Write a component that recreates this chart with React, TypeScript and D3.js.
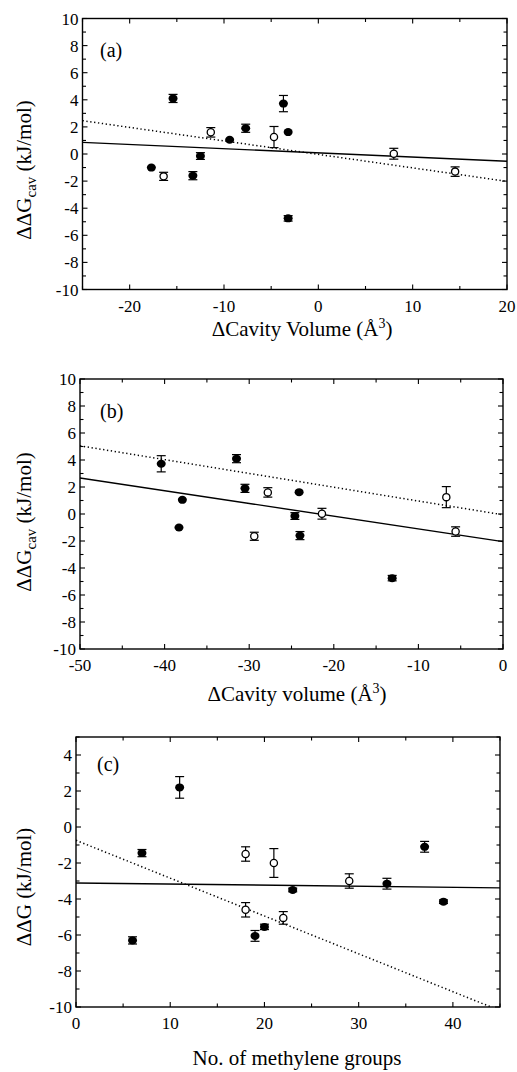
import React from "react";
import * as d3 from "d3";

// ---- shared mutant data (panels a & b share ΔΔGcav values) ----
const ddGcav = [-1.0, 4.1, -1.65, -1.6, -0.15, 1.6, 1.05, 1.9, 1.25, 3.72, 1.62, -4.75, 0.02, -1.3];
const ddGcavErr = [0, 0.3, 0.3, 0.3, 0.25, 0.35, 0, 0.3, 0.78, 0.6, 0, 0.2, 0.4, 0.35];
const ddGcavFilled = [true, true, false, true, true, false, true, true, false, true, true, true, false, false];
const cavityVolumeA = [-17.7, -15.4, -16.4, -13.3, -12.5, -11.4, -9.4, -7.7, -4.7, -3.7, -3.2, -3.2, 8.0, 14.5];
const cavityVolumeB = [-38.3, -31.5, -29.4, -24.0, -24.6, -27.8, -37.9, -30.5, -6.7, -40.4, -24.1, -13.1, -21.4, -5.6];

// ---- panel c ----
const methyleneGroups = [6, 7, 11, 18, 18, 19, 20, 21, 22, 23, 29, 33, 37, 39];
const ddGc = [-6.3, -1.45, 2.2, -1.5, -4.6, -6.05, -5.55, -2.0, -5.05, -3.5, -3.0, -3.15, -1.1, -4.15];
const ddGcErr = [0.2, 0.2, 0.6, 0.4, 0.4, 0.3, 0.15, 0.8, 0.35, 0.1, 0.4, 0.3, 0.3, 0.1];
const ddGcFilled = [true, true, true, false, false, true, true, false, false, true, false, true, true, true];

// ---- fitted lines [x0, y0, x1, y1] ----
const solidFitA = [-25, 0.86, 20, -0.54];
const dottedFitA = [-25, 2.46, 20, -2.02];
const solidFitB = [-50, 2.67, 0, -2.05];
const dottedFitB = [-50, 5.05, 0, -0.06];
const solidFitC = [0, -3.11, 45, -3.38];
const dottedFitC = [0, -0.74, 45, -10.2];

// ---- ticks ----
const xTicksA = [-20, -10, 0, 10, 20];
const xTicksB = [-50, -40, -30, -20, -10, 0];
const xTicksC = [0, 10, 20, 30, 40];
const yTicksAB = [-10, -8, -6, -4, -2, 0, 2, 4, 6, 8, 10];
const yTicksC = [-10, -8, -6, -4, -2, 0, 2, 4];

const FONT = "'Liberation Serif', 'Times New Roman', serif";

type PanelProps = {
  id: string;
  frame: { l: number; t: number; r: number; b: number };
  xDomain: [number, number];
  yDomain: [number, number];
  xTicks: number[];
  yTicks: number[];
  xMinorStep: number;
  yMinorStep: number;
  xs: number[];
  ys: number[];
  errs: number[];
  filled: boolean[];
  solid: number[];
  dotted: number[];
  tag: string;
  tagPos: [number, number];
  xLabel: React.ReactNode;
  xLabelPos: [number, number];
  yLabel: React.ReactNode;
  yLabelPos: [number, number];
};

function Panel(p: PanelProps) {
  const { l, t, r, b } = p.frame;
  const x = d3.scaleLinear().domain(p.xDomain).range([l, r]);
  const y = d3.scaleLinear().domain(p.yDomain).range([b, t]);
  const xMinor = d3.range(p.xDomain[0], p.xDomain[1] + 1e-9, p.xMinorStep);
  const yMinor = d3.range(p.yDomain[0], p.yDomain[1] + 1e-9, p.yMinorStep);
  const line = d3.line<[number, number]>().x((d) => x(d[0])).y((d) => y(d[1]));
  const seg = (f: number[]) => line([[f[0], f[1]], [f[2], f[3]]] as [number, number][]) || "";
  const clipId = "clip-" + p.id;
  const isMajorX = (v: number) => p.xTicks.some((tv) => Math.abs(tv - v) < 1e-6);
  const isMajorY = (v: number) => p.yTicks.some((tv) => Math.abs(tv - v) < 1e-6);
  return (
    <g>
      <defs>
        <clipPath id={clipId}>
          <rect x={l} y={t} width={r - l} height={b - t} />
        </clipPath>
      </defs>
      {/* ticks */}
      {xMinor.map((v, i) => {
        const len = isMajorX(v) ? 5 : 3.5;
        return (
          <g key={"xt" + i} stroke="#000" strokeWidth={1.1}>
            <line x1={x(v)} x2={x(v)} y1={b} y2={b - len} />
            <line x1={x(v)} x2={x(v)} y1={t} y2={t + len} />
          </g>
        );
      })}
      {yMinor.map((v, i) => {
        const len = isMajorY(v) ? 5 : 3.5;
        return (
          <g key={"yt" + i} stroke="#000" strokeWidth={1.1}>
            <line x1={l} x2={l + len} y1={y(v)} y2={y(v)} />
            <line x1={r} x2={r - len} y1={y(v)} y2={y(v)} />
          </g>
        );
      })}
      {/* frame */}
      <rect x={l} y={t} width={r - l} height={b - t} fill="none" stroke="#000" strokeWidth={1.4} />
      {/* tick labels */}
      {p.xTicks.map((v) => (
        <text key={"xl" + v} x={x(v)} y={b + 22} textAnchor="middle" fontSize={17} fontFamily={FONT}>
          {String(v)}
        </text>
      ))}
      {p.yTicks.map((v) => (
        <text key={"yl" + v} x={l - 4} y={y(v) + 6} textAnchor="end" fontSize={17} fontFamily={FONT}>
          {String(v)}
        </text>
      ))}
      {/* fits */}
      <g clipPath={`url(#${clipId})`} fill="none" stroke="#000">
        <path d={seg(p.solid)} strokeWidth={1.4} />
        <path d={seg(p.dotted)} strokeWidth={1.5} strokeDasharray="1.3,2.6" />
      </g>
      {/* error bars */}
      {p.xs.map((xv, i) => {
        const e = p.errs[i];
        if (!e) return null;
        const cx = x(xv);
        return (
          <g key={"e" + i} stroke="#000" strokeWidth={1.2}>
            <line x1={cx} x2={cx} y1={y(p.ys[i] - e)} y2={y(p.ys[i] + e)} />
            <line x1={cx - 4.5} x2={cx + 4.5} y1={y(p.ys[i] - e)} y2={y(p.ys[i] - e)} />
            <line x1={cx - 4.5} x2={cx + 4.5} y1={y(p.ys[i] + e)} y2={y(p.ys[i] + e)} />
          </g>
        );
      })}
      {/* markers */}
      {p.xs.map((xv, i) =>
        p.filled[i] ? (
          <ellipse key={"m" + i} cx={x(xv)} cy={y(p.ys[i])} rx={4.5} ry={4} fill="#000" />
        ) : (
          <circle key={"m" + i} cx={x(xv)} cy={y(p.ys[i])} r={3.6} fill="#fff" stroke="#000" strokeWidth={1.3} />
        )
      )}
      {/* tag */}
      <text x={p.tagPos[0]} y={p.tagPos[1]} fontSize={20} fontFamily={FONT}>
        {p.tag}
      </text>
      {/* axis labels */}
      <text x={p.xLabelPos[0]} y={p.xLabelPos[1]} textAnchor="middle" fontSize={21} fontFamily={FONT}>
        {p.xLabel}
      </text>
      <text
        transform={`translate(${p.yLabelPos[0]},${p.yLabelPos[1]}) rotate(-90)`}
        textAnchor="middle"
        fontSize={21}
        fontFamily={FONT}
      >
        {p.yLabel}
      </text>
    </g>
  );
}

const cavLabel = (
  <>
    ΔΔG
    <tspan fontSize={15} dy={5}>cav</tspan>
    <tspan dy={-5}> (kJ/mol)</tspan>
  </>
);

const volLabel = (word: string) => (
  <>
    ΔCavity {word} (Å
    <tspan fontSize={14} dy={-8}>3</tspan>
    <tspan dy={8}>)</tspan>
  </>
);

export default function App() {
  return (
    <svg
      width={517}
      height={1072}
      style={{ position: "absolute", left: 0, top: 0, background: "#fff" }}
    >
      <rect x={0} y={0} width={517} height={1072} fill="#fff" />
      <Panel
        id="a"
        frame={{ l: 82.5, t: 18.5, r: 507, b: 289.5 }}
        xDomain={[-25, 20]}
        yDomain={[-10, 10]}
        xTicks={xTicksA}
        yTicks={yTicksAB}
        xMinorStep={5}
        yMinorStep={1}
        xs={cavityVolumeA}
        ys={ddGcav}
        errs={ddGcavErr}
        filled={ddGcavFilled}
        solid={solidFitA}
        dotted={dottedFitA}
        tag="(a)"
        tagPos={[100, 57]}
        xLabel={volLabel("Volume")}
        xLabelPos={[302, 336]}
        yLabel={cavLabel}
        yLabelPos={[31, 170]}
      />
      <Panel
        id="b"
        frame={{ l: 80, t: 379, r: 503, b: 649 }}
        xDomain={[-50, 0]}
        yDomain={[-10, 10]}
        xTicks={xTicksB}
        yTicks={yTicksAB}
        xMinorStep={5}
        yMinorStep={1}
        xs={cavityVolumeB}
        ys={ddGcav}
        errs={ddGcavErr}
        filled={ddGcavFilled}
        solid={solidFitB}
        dotted={dottedFitB}
        tag="(b)"
        tagPos={[100, 418]}
        xLabel={volLabel("volume")}
        xLabelPos={[297, 701]}
        yLabel={cavLabel}
        yLabelPos={[31, 522]}
      />
      <Panel
        id="c"
        frame={{ l: 76, t: 737, r: 500, b: 1007 }}
        xDomain={[0, 45]}
        yDomain={[-10, 5]}
        xTicks={xTicksC}
        yTicks={yTicksC}
        xMinorStep={5}
        yMinorStep={1}
        xs={methyleneGroups}
        ys={ddGc}
        errs={ddGcErr}
        filled={ddGcFilled}
        solid={solidFitC}
        dotted={dottedFitC}
        tag="(c)"
        tagPos={[97, 771]}
        xLabel={"No. of methylene groups"}
        xLabelPos={[297, 1065]}
        yLabel={"ΔΔG (kJ/mol)"}
        yLabelPos={[31, 887]}
      />
    </svg>
  );
}
